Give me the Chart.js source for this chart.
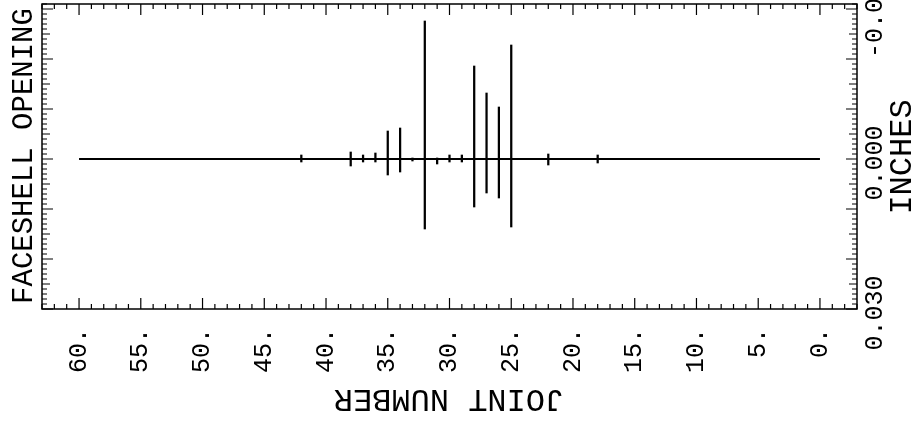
<!DOCTYPE html>
<html lang="en">
<head>
  <meta charset="UTF-8" />
  <title>Faceshell Opening</title>
  <script src="https://cdn.jsdelivr.net/npm/chart.js"></script>
  <style>
    html, body { margin: 0; padding: 0; background: #fff; }
    #wrap { width: 923px; height: 428px; }
  </style>
</head>
<body>
  <div id="wrap"><canvas id="plot" width="923" height="428"></canvas></div>

  <script>
    // joints with a visible opening range (inches, positive = down on the plot)
    const barJoints = [42, 38, 37, 36, 35, 34, 33, 32, 31, 30, 29, 28, 27, 26, 25, 22, 18];
    const barLow  = [-0.0008, -0.0014, -0.0008, -0.0012, -0.0056, -0.0062, -0.0002, -0.0276, -0.0002, -0.0008, -0.0008, -0.0186, -0.0132, -0.0104, -0.0228, -0.0010, -0.0008];
    const barHigh = [ 0.0006,  0.0014,  0.0006,  0.0006,  0.0032,  0.0026,  0.0004,  0.0140,  0.0010,  0.0006,  0.0006,  0.0096,  0.0068,  0.0078,  0.0136,  0.0012,  0.0008];

    // zero line over the whole joint run
    const lineJoints = [0, 60];
    const lineValues = [0, 0];

    const xTickValues = [60, 55, 50, 45, 40, 35, 30, 25, 20, 15, 10, 5, 0];
    const xTickLabels = ["60.", "55.", "50.", "45.", "40.", "35.", "30.", "25.", "20.", "15.", "10.", "5.", "0."];
    const yTickValues = [-0.030, 0.000, 0.030];
    const yTickLabels = ["-0.030", "0.000", "0.030"];

    const FONT = '"Liberation Mono", "DejaVu Sans Mono", monospace';

    function rotText(ctx, text, x, y, angle, align, size) {
      ctx.save();
      ctx.translate(x, y);
      ctx.rotate(angle);
      ctx.font = size + 'px ' + FONT;
      ctx.textAlign = align;
      ctx.textBaseline = 'middle';
      ctx.fillText(text, 0, 0);
      ctx.restore();
    }

    // plotter style frame: inward ticks on all four sides, rotated labels
    const plotterAxes = {
      id: 'plotterAxes',
      afterDatasetsDraw(chart) {
        const { ctx, chartArea: a, scales: { x, y } } = chart;
        ctx.save();
        ctx.strokeStyle = '#000';
        ctx.fillStyle = '#000';
        ctx.lineWidth = 1.5;
        ctx.strokeRect(a.left, a.top, a.right - a.left, a.bottom - a.top);

        ctx.lineWidth = 1.2;
        ctx.beginPath();
        for (let j = Math.ceil(x.min); j <= Math.floor(x.max); j++) {
          const px = x.getPixelForValue(j);
          const len = j % 5 === 0 ? 11 : 5;
          ctx.moveTo(px, a.bottom); ctx.lineTo(px, a.bottom - len);
          ctx.moveTo(px, a.top); ctx.lineTo(px, a.top + len);
        }
        for (let k = -31; k <= 30; k++) {
          const py = y.getPixelForValue(k / 1000);
          const len = k % 10 === 0 ? 11 : (k % 5 === 0 ? 8 : 5);
          ctx.moveTo(a.left, py); ctx.lineTo(a.left + len, py);
          ctx.moveTo(a.right, py); ctx.lineTo(a.right - len, py);
        }
        ctx.stroke();

        xTickValues.forEach((v, i) => {
          rotText(ctx, xTickLabels[i], x.getPixelForValue(v), a.bottom + 19, -Math.PI / 2, 'right', 25);
        });
        yTickValues.forEach((v, i) => {
          rotText(ctx, yTickLabels[i], a.right + 18, y.getPixelForValue(v) + 4, -Math.PI / 2, 'center', 25);
        });

        rotText(ctx, 'FACESHELL OPENING', 24, 156, -Math.PI / 2, 'center', 29);
        rotText(ctx, 'INCHES', 903, 157, -Math.PI / 2, 'center', 32);
        rotText(ctx, 'JOINT NUMBER', 449, 398, Math.PI, 'center', 32);
        ctx.restore();
      }
    };

    const ctx = document.getElementById('plot').getContext('2d');
    new Chart(ctx, {
      type: 'bar',
      data: {
        datasets: [{
          type: 'bar',
          data: barJoints.map((j, i) => ({ x: j, y: [barLow[i], barHigh[i]] })),
          backgroundColor: '#000',
          borderWidth: 0,
          barThickness: 1.6,
          grouped: false
        }, {
          type: 'line',
          data: lineJoints.map((j, i) => ({ x: j, y: lineValues[i] })),
          borderColor: '#000',
          borderWidth: 2,
          pointRadius: 0,
          fill: false
        }]
      },
      options: {
        responsive: false,
        animation: false,
        devicePixelRatio: 1,
        layout: { padding: { left: 42, right: 66, top: 4, bottom: 119 } },
        scales: {
          x: { type: 'linear', reverse: true, min: -3, max: 63, offset: false, display: false },
          y: { type: 'linear', reverse: true, min: -0.031, max: 0.030, display: false }
        },
        plugins: { legend: { display: false }, tooltip: { enabled: false } }
      },
      plugins: [plotterAxes]
    });
  </script>
</body>
</html>
